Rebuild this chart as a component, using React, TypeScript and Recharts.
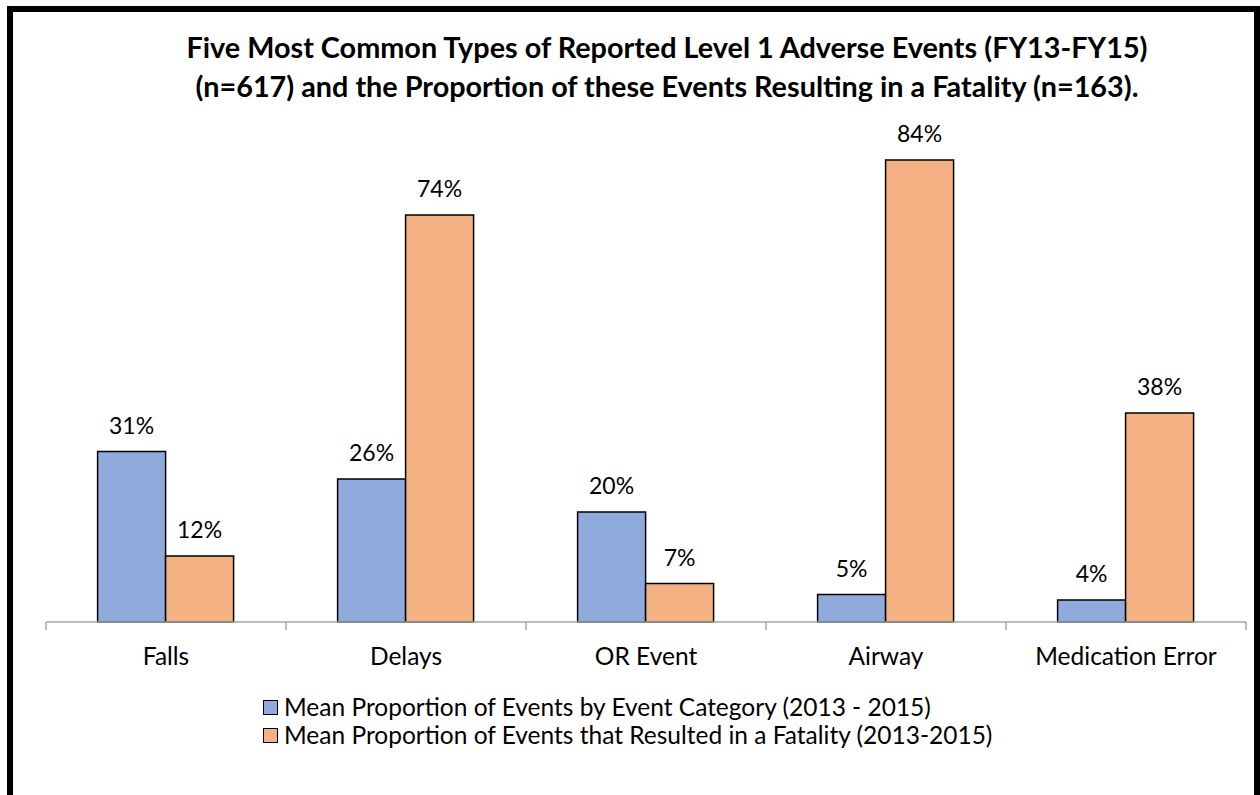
import React from 'react'
import { BarChart, Bar, XAxis, YAxis, LabelList } from 'recharts'

const categories = ['Falls', 'Delays', 'OR Event', 'Airway', 'Medication Error']
const eventShare = [31, 26, 20, 5, 4]
const fatalityShare = [12, 74, 7, 84, 38]

const seriesNames = [
  'Mean Proportion of Events by Event Category (2013 - 2015)',
  'Mean Proportion of Events that Resulted in a Fatality (2013-2015)',
]
const titleLines = [
  'Five Most Common Types of Reported Level 1 Adverse Events (FY13-FY15)',
  '(n=617) and the Proportion of these Events Resulting in a Fatality (n=163).',
]

const BLUE = '#8FAADC'
const ORANGE = '#F4B183'
const FONT = 'Lato, "Open Sans", sans-serif'

const data = categories.map((name, i) => ({
  name,
  events: eventShare[i],
  fatal: fatalityShare[i],
}))

function BoundaryTick(props: any) {
  const { x, y, payload, index } = props
  const half = payload.offset ?? 0
  const isLast = index === categories.length - 1
  return (
    <g>
      <line x1={x - half} x2={x - half} y1={y} y2={y + 8} stroke="#A6A6A6" strokeWidth={1.5} />
      {isLast && <line x1={x + half} x2={x + half} y1={y} y2={y + 8} stroke="#A6A6A6" strokeWidth={1.5} />}
      <text x={x} y={y + 43} textAnchor="middle" fill="#000" fontSize={24.5} fontFamily={FONT}>
        {payload.value}
      </text>
    </g>
  )
}

export default function App() {
  return (
    <div style={{ position: 'absolute', left: 0, top: 0, width: 1260, height: 795, overflow: 'hidden', background: '#fff' }}>
      {/* frame */}
      <div style={{ position: 'absolute', left: 7, top: 6, width: 1241, height: 900, border: '6px solid #000' }} />

      {/* title */}
      <div style={{ position: 'absolute', left: 167, top: 28, width: 1000, textAlign: 'center', fontFamily: FONT, fontWeight: 700, fontSize: 28.8, lineHeight: '38.5px', color: '#000', whiteSpace: 'nowrap' }}>
        {titleLines.map(t => <div key={t}>{t}</div>)}
      </div>

      <div style={{ position: 'absolute', left: 0, top: 0 }}>
        <BarChart width={1260} height={795} data={data} margin={{ top: 127, right: 14, bottom: 123, left: 46 }} barCategoryGap="21.5%" barGap={0}>
          <XAxis dataKey="name" height={50} tickSize={0} tickMargin={0} tickLine={false} axisLine={{ stroke: '#A6A6A6', strokeWidth: 1.5 }} tick={<BoundaryTick />} interval={0} />
          <YAxis hide domain={[0, 90]} />
          <Bar dataKey="events" fill={BLUE} stroke="#000" strokeWidth={1.5} isAnimationActive={false}>
            <LabelList dataKey="events" position="top" offset={18} formatter={(v: any) => `${v}%`} fill="#000" fontSize={23} fontFamily={FONT} />
          </Bar>
          <Bar dataKey="fatal" fill={ORANGE} stroke="#000" strokeWidth={1.5} isAnimationActive={false}>
            <LabelList dataKey="fatal" position="top" offset={18} formatter={(v: any) => `${v}%`} fill="#000" fontSize={23} fontFamily={FONT} />
          </Bar>
        </BarChart>
      </div>

      {/* legend */}
      <div style={{ position: 'absolute', left: 263, top: 693, fontFamily: FONT, fontSize: 24.5, lineHeight: '28px', color: '#000', whiteSpace: 'nowrap' }}>
        {seriesNames.map((n, i) => (
          <div key={n} style={{ display: 'flex', alignItems: 'center' }}>
            <span style={{ display: 'inline-block', width: 13, height: 13, background: i === 0 ? BLUE : ORANGE, border: '1.5px solid #000', marginRight: 6 }} />
            <span>{n}</span>
          </div>
        ))}
      </div>
    </div>
  )
}
